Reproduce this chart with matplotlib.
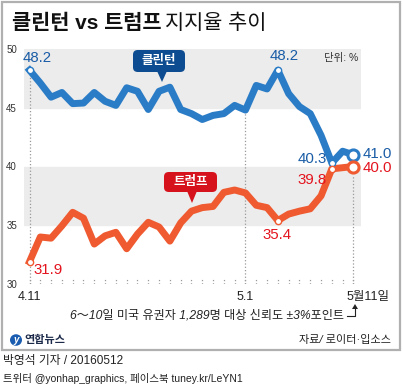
import matplotlib
matplotlib.use("Agg")
import matplotlib.pyplot as plt
from matplotlib.patches import Rectangle, Polygon, FancyBboxPatch, Circle

plt.rcParams['font.family'] = ['Liberation Sans', 'Noto Sans CJK KR', 'DejaVu Sans']

# data: daily poll, 4.11 .. 5.11
days = list(range(31))
clinton = [48.2, 47.1, 45.9, 46.3, 45.35, 45.4, 46.3, 45.55, 45.2, 46.7,
           46.4, 44.85, 46.4, 46.75, 44.85, 44.5, 44.0, 44.35, 44.5, 45.2,
           44.8, 46.9, 46.6, 48.2, 46.2, 45.1, 44.5, 42.65, 40.3, 41.3, 41.0]
trump = [31.9, 34.0, 33.9, 34.95, 36.1, 35.6, 33.4, 34.1, 34.4, 33.0,
         34.25, 35.25, 34.85, 33.65, 35.2, 36.2, 36.5, 36.6, 37.8, 38.0,
         37.75, 36.7, 36.5, 35.4, 35.95, 36.2, 36.4, 37.5, 39.8, 39.9, 40.0]
xtick_pos = [0, 20]
xtick_labels = ['4.11', '5.1']
yticks = [30, 35, 40, 45, 50]

W, H = 403, 387
BLUE = '#2b7cc6'
BLUE_TXT = '#1a5ca6'
RED = '#ef5a30'
RED_TXT = '#e4141e'


def px(x, y):
    return (x / W, 1 - y / H)


fig = plt.figure(figsize=(W / 100, H / 100), dpi=100)
fig.patch.set_facecolor('white')

# outer frame
fig.patches.append(Rectangle(px(2, 350), 398 / W, 348 / H, transform=fig.transFigure,
                             fill=False, edgecolor='#b0b0b0', linewidth=1.6))

left, right, top, bottom = px(24, 0)[0], px(361, 0)[0], px(0, 49)[1], px(0, 284)[1]
ax = fig.add_axes([left, bottom, right - left, top - bottom])
ax.set_xlim(-0.51, 30.7)
ax.set_ylim(30, 50)
for s in ax.spines.values():
    s.set_visible(False)
ax.axhspan(45, 50, color='#ececec', zorder=0)
ax.axhspan(35, 40, color='#ececec', zorder=0)

ax.set_yticks(yticks)
ax.set_yticklabels([str(v) for v in yticks])
ax.tick_params(axis='y', length=0, pad=5, labelsize=7, labelcolor='#333333')
ax.set_xticks([])

# dotted guides
ax.vlines(0, 30, clinton[0], colors='#999999', linestyles=':', linewidth=0.9, zorder=1)
ax.vlines(20, 30, 44.6, colors='#999999', linestyles=':', linewidth=0.9, zorder=1)
ax.vlines(30, 30, 39.3, colors='#999999', linestyles=':', linewidth=0.9, zorder=1)
ax.vlines(days, 30, 30.45, colors='#999999', linestyles=':', linewidth=0.9, zorder=1)

ax.plot(days, clinton, color=BLUE, linewidth=5, solid_joinstyle='round', zorder=3)
ax.plot(days, trump, color=RED, linewidth=5, solid_joinstyle='round', zorder=3)

for i in [0, 23, 28]:
    ax.plot(days[i], clinton[i], 'o', ms=4.5, mfc='white', mec=BLUE, mew=1, zorder=4)
    ax.plot(days[i], trump[i], 'o', ms=4.5, mfc='white', mec=RED, mew=1, zorder=4)
ax.plot(days[30], clinton[30], 'o', ms=8, mfc='white', mec=BLUE, mew=2.2, zorder=4)
ax.plot(days[30], trump[30], 'o', ms=8, mfc='white', mec=RED, mew=2.2, zorder=4)

# value labels
lab = dict(ha='center', va='center', fontsize=10.8, textcoords='offset pixels')
ax.annotate(f'{clinton[0]}', (days[0], clinton[0]), xytext=(8, 12), color=BLUE_TXT, **lab)
ax.annotate(f'{clinton[23]}', (days[23], clinton[23]), xytext=(6, 14), color=BLUE_TXT, **lab)
ax.annotate(f'{clinton[28]}', (days[28], clinton[28]), xytext=(-20, 4), color=BLUE_TXT, **lab)
ax.annotate(f'{clinton[30]}', (days[30], clinton[30]), xytext=(24, 1), color=BLUE_TXT, **lab)
ax.annotate(f'{trump[0]}', (days[0], trump[0]), xytext=(19, -8), color=RED_TXT, **lab)
ax.annotate(f'{trump[23]}', (days[23], trump[23]), xytext=(-1, -14), color=RED_TXT, **lab)
ax.annotate(f'{trump[28]}', (days[28], trump[28]), xytext=(-20, -11), color=RED_TXT, **lab)
ax.annotate(f'{trump[30]}', (days[30], trump[30]), xytext=(24, -1), color=RED_TXT, **lab)

# x labels
for p, t in zip(xtick_pos, xtick_labels):
    ax.annotate(t, (p, 30), xytext=(0, -13), textcoords='offset pixels',
                ha='center', va='center', fontsize=9, color='#222222')
ax.annotate('5월11일', (30, 30), xytext=(-7, -13), textcoords='offset pixels',
            ha='left', va='center', fontsize=9, color='#222222')

# title
fig.text(*px(12, 23), '클린턴 vs 트럼프', fontsize=15, fontweight='bold', va='center', ha='left',
         color='#111111')
fig.text(*px(165, 23), '지지율 추이', fontsize=15, va='center', ha='left', color='#111111')
fig.text(*px(358, 58), '단위: %', fontsize=7.5, va='center', ha='right', color='#333333')


# callouts
def callout(x0, y0, x1, y1, tip, text, color):
    bx, by = px(x0, y1)
    fig.patches.append(FancyBboxPatch((bx, by), (x1 - x0) / W, (y1 - y0) / H,
                                      boxstyle='round,pad=0,rounding_size=0.012',
                                      transform=fig.transFigure, facecolor=color,
                                      edgecolor='none', zorder=5))
    tx, ty = tip
    fig.patches.append(Polygon([px(tx - 5, y1 - 1), px(tx + 5, y1 - 1), px(tx, ty)],
                               transform=fig.transFigure, facecolor=color,
                               edgecolor='none', zorder=5))
    fig.text(*px((x0 + x1) / 2, (y0 + y1) / 2), text, fontsize=9, fontweight='bold',
             color='white', ha='center', va='center', zorder=6)


callout(133, 50, 185, 72, (162, 82), '클린턴', '#0d4c90')
callout(164, 172, 217, 192, (192, 203), '트럼프', '#d6131d')

# footnote
fig.text(*px(344, 316), '6～10일 미국 유권자 1,289명 대상 신뢰도 ±3%포인트', fontsize=8.7,
         style='italic', ha='right', va='center', color='#222222')
fig.lines.append(plt.Line2D([347 / W, 355 / W, 355 / W], [1 - 316 / H, 1 - 316 / H, 1 - 308 / H],
                            transform=fig.transFigure, color='#222222', linewidth=0.8))
fig.patches.append(Polygon([px(352, 309), px(358, 309), px(355, 304)], transform=fig.transFigure,
                           facecolor='#222222', edgecolor='none'))

# source row
fig.patches.append(Circle(px(16, 340), 6 / W, transform=fig.transFigure,
                          facecolor='#1a5cb0', edgecolor='none'))
fig.text(*px(16, 340), 'y', fontsize=7, fontweight='bold', style='italic', color='white',
         ha='center', va='center')
fig.text(*px(24, 340), '연합뉴스', fontsize=8, fontweight='bold', color='#1c2a4a',
         ha='left', va='center')
fig.text(*px(391, 340), '자료/ 로이터·입소스', fontsize=8, style='italic', color='#222222',
         ha='right', va='center')

fig.text(*px(3, 361), '박영석 기자 / 20160512', fontsize=8.5, color='#222222', ha='left', va='center')
fig.text(*px(3, 379), '트위터 @yonhap_graphics, 페이스북 tuney.kr/LeYN1', fontsize=7.5,
         color='#222222', ha='left', va='center')

fig.savefig('out.png', dpi=100)
